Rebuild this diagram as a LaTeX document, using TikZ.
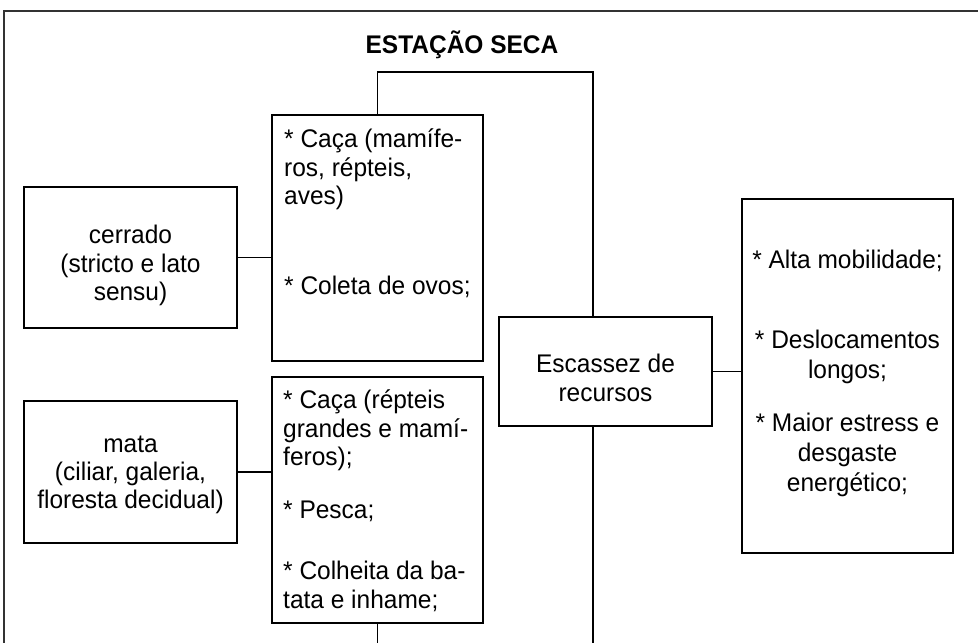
\documentclass[tikz,border=0pt]{standalone}
\usepackage{fontspec}
\setmainfont{Liberation Sans}[FakeStretch=0.96]
\begin{document}
\begin{tikzpicture}[x=1pt,y=-1pt,
  box/.style={draw,line width=2.3pt,minimum width=211pt,inner sep=0pt},
  txt/.style={inner sep=0pt,font=\fontsize{25.5}{28.5}\selectfont},
  link/.style={line width=1.8pt}]
\useasboundingbox (0,0) rectangle (978,643);

% frame
\draw [line width=1.2pt, color=black!80] (4,643) -- (4,11) -- (978,11);
\node [txt, font=\fontsize{25.5}{28.5}\selectfont\bfseries, anchor=base] (title) at (462,53) {ESTAÇÃO SECA};

% habitats
\node [box, minimum width=213pt, minimum height=141pt] (cerrado) at (130.5,257.5) {};
\node [txt, align=center] (cerradoT) at (130.5,265.5) {cerrado\\(stricto e lato\\sensu)};
\node [box, minimum width=213pt, minimum height=142pt] (mata) at (130.5,472) {};
\node [txt, align=center, font=\fontsize{25.5}{28}\selectfont] (mataT) at (130.5,474.5) {mata\\(ciliar, galeria,\\floresta decidual)};

% activities
\node [box, minimum height=246pt] (caca1) at (377.5,238) {};
\node [txt, align=left, anchor=north west] (caca1T) at (284,129) {* Caça (mamífe-\\ros, répteis,\\aves)\\[61pt]* Coleta de ovos;};
\node [box, minimum height=246pt] (caca2) at (377.5,500) {};
\node [txt, align=left, anchor=north west] (caca2T) at (283,390) {* Caça (répteis\\grandes e mamí-\\feros);\\[24pt]* Pesca;\\[33pt]* Colheita da ba-\\tata e inhame;};

% resources
\node [box, minimum width=213pt, minimum height=109pt] (escassez) at (605.5,371.5) {};
\node [txt, align=center] (escassezT) at (605.5,378) {Escassez de\\recursos};
\node [box, minimum height=354pt] (efeito) at (847.5,376) {};
\node [txt, align=center, anchor=north, font=\fontsize{25.5}{30}\selectfont] (efeitoT) at (847.5,250) {* Alta mobilidade;\\[50pt]* Deslocamentos\\longos;\\[23pt]* Maior estress e\\desgaste\\energético;};

% connectors
\coordinate (spine) at (593,72);
\coordinate (foot) at (593,643);
\draw [link] (caca1.north) |- (spine) -- (spine |- escassez.north);
\draw [link] (cerrado.east) -- (cerrado.east -| caca1.west);
\draw [link] (mata.east) -- (mata.east -| caca2.west);
\draw [link] (escassez.east) -- (escassez.east -| efeito.west);
\draw [link] (escassez.south -| foot) -- (foot);
\draw [link] (caca2.south) -- (caca2.south |- foot);
\end{tikzpicture}
\end{document}
